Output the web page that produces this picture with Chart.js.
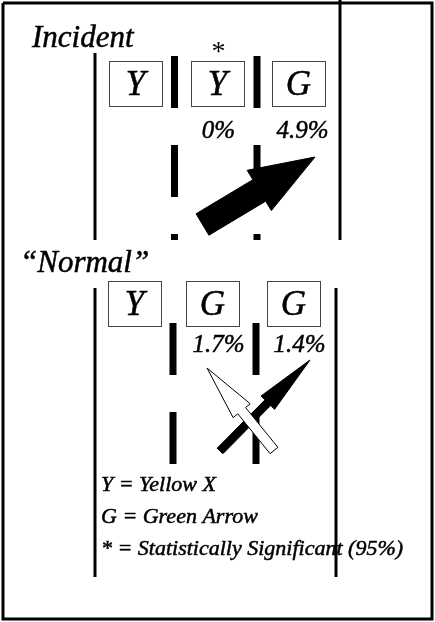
<!DOCTYPE html>
<html>
<head>
<meta charset="utf-8">
<script src="https://cdn.jsdelivr.net/npm/chart.js@4"></script>
<style>
  html, body { margin: 0; padding: 0; background: #fff; }
  canvas { display: block; }
</style>
</head>
<body>
<canvas id="signalChart" width="435" height="622"></canvas>
<script>
// Data
const panelTitles = ['Incident', '\u201CNormal\u201D'];
const incidentSignals = ['Y', 'Y', 'G'];
const incidentRates = ['', '0%', '4.9%'];
const incidentSignificant = [false, true, false];
const normalSignals = ['Y', 'G', 'G'];
const normalRates = ['', '1.7%', '1.4%'];
const normalSignificant = [false, false, false];
const legendKeys = ['Y', 'G', '*'];
const legendMeanings = ['Yellow X', 'Green Arrow', 'Statistically Significant (95%)'];

// Layout in diagram units (the hidden x / y scales run 0..435 and 0..622)
const SERIF = '"Liberation Serif", "DejaVu Serif", serif';
const panels = [
  {
    title: panelTitles[0], titleX: 32, titleY: 47,
    signals: incidentSignals, rates: incidentRates, significant: incidentSignificant,
    boxLeft: [109, 191, 272], boxTop: 61, rateY: 131, rateShift: [0, 1, 4],
    edges: [[95, 53, 240], [340, 0, 240]],
    dividers: [174.5, 257], divTop: 56, divBottom: 240,
    arrows: [
      { tail: [202.5, 224.5], tip: [315, 157], shaft: 25, head: 47, headLen: 65, fill: '#000' }
    ]
  },
  {
    title: panelTitles[1], titleX: 20, titleY: 272,
    signals: normalSignals, rates: normalRates, significant: normalSignificant,
    boxLeft: [108, 186, 267], boxTop: 281, rateY: 345, rateShift: [0, 6, 6],
    edges: [[95, 288, 577], [336, 288, 577]],
    dividers: [173, 256], divTop: 323, divBottom: 464,
    arrows: [
      { tail: [220, 451], tip: [310, 360], shaft: 8, head: 19, headLen: 60, fill: '#000' },
      { tail: [274, 450.5], tip: [207, 368], shaft: 10, head: 22, headLen: 55, fill: '#fff' }
    ]
  }
];
const BOX_W = 53;
const BOX_H = 45;
const legendX = 101;
const legendY = [491, 523, 555];

// Line datasets: frame, road edges, dashed lane dividers
const datasets = [];
datasets.push({
  data: [{x: 3, y: 3}, {x: 432, y: 3}, {x: 432, y: 619}, {x: 3, y: 619}, {x: 3, y: 3}],
  borderColor: '#000', borderWidth: 3
});
panels.forEach(p => {
  p.edges.forEach(e => {
    datasets.push({
      data: [{x: e[0], y: e[1]}, {x: e[0], y: e[2]}],
      borderColor: '#000', borderWidth: 3
    });
  });
  p.dividers.forEach(x => {
    datasets.push({
      data: [{x: x, y: p.divTop}, {x: x, y: p.divBottom}],
      borderColor: '#000', borderWidth: 7, borderDash: [52, 37], borderCapStyle: 'butt'
    });
  });
});
datasets.forEach(d => {
  d.showLine = true;
  d.pointRadius = 0;
  d.fill = false;
  d.tension = 0;
});

function drawArrow(ctx, xs, ys, a) {
  const tx = xs.getPixelForValue(a.tail[0]), ty = ys.getPixelForValue(a.tail[1]);
  const px = xs.getPixelForValue(a.tip[0]), py = ys.getPixelForValue(a.tip[1]);
  const len = Math.hypot(px - tx, py - ty);
  const ux = (px - tx) / len, uy = (py - ty) / len;
  const nx = -uy, ny = ux;
  const bx = px - ux * a.headLen, by = py - uy * a.headLen;
  const s = a.shaft / 2, h = a.head / 2;
  ctx.beginPath();
  ctx.moveTo(tx + nx * s, ty + ny * s);
  ctx.lineTo(bx + nx * s, by + ny * s);
  ctx.lineTo(bx + nx * h, by + ny * h);
  ctx.lineTo(px, py);
  ctx.lineTo(bx - nx * h, by - ny * h);
  ctx.lineTo(bx - nx * s, by - ny * s);
  ctx.lineTo(tx - nx * s, ty - ny * s);
  ctx.closePath();
  ctx.fillStyle = a.fill;
  ctx.fill();
  ctx.lineWidth = 1;
  ctx.strokeStyle = '#000';
  ctx.stroke();
}

// scanned text looks heavy, so add a thin outline
function heavyText(ctx, text, x, y) {
  ctx.fillText(text, x, y);
  ctx.lineWidth = 0.5;
  ctx.strokeStyle = '#000';
  ctx.strokeText(text, x, y);
}

const diagramPlugin = {
  id: 'diagram',
  beforeDatasetsDraw(chart) {
    const ctx = chart.ctx;
    const xs = chart.scales.x, ys = chart.scales.y;
    ctx.save();
    ctx.fillStyle = '#fff';
    ctx.fillRect(0, 0, chart.width, chart.height);
    // legend text sits under the road edge
    ctx.fillStyle = '#000';
    ctx.font = 'italic 22px ' + SERIF;
    ctx.textAlign = 'left';
    ctx.textBaseline = 'alphabetic';
    legendKeys.forEach((k, i) => {
      heavyText(ctx, k + ' = ' + legendMeanings[i], xs.getPixelForValue(legendX), ys.getPixelForValue(legendY[i]));
    });
    ctx.restore();
  },
  afterDatasetsDraw(chart) {
    const ctx = chart.ctx;
    const xs = chart.scales.x, ys = chart.scales.y;
    ctx.save();
    panels.forEach(p => {
      ctx.fillStyle = '#000';
      ctx.font = 'italic 31px ' + SERIF;
      ctx.textAlign = 'left';
      ctx.textBaseline = 'alphabetic';
      heavyText(ctx, p.title, xs.getPixelForValue(p.titleX), ys.getPixelForValue(p.titleY));

      p.signals.forEach((sig, i) => {
        const x0 = xs.getPixelForValue(p.boxLeft[i]);
        const x1 = xs.getPixelForValue(p.boxLeft[i] + BOX_W);
        const y0 = ys.getPixelForValue(p.boxTop);
        const y1 = ys.getPixelForValue(p.boxTop + BOX_H);
        const cx = (x0 + x1) / 2;
        ctx.fillStyle = '#fff';
        ctx.fillRect(x0, y0, x1 - x0, y1 - y0);
        ctx.strokeStyle = '#444';
        ctx.lineWidth = 1;
        ctx.strokeRect(x0 + 0.5, y0 + 0.5, x1 - x0, y1 - y0);
        ctx.fillStyle = '#000';
        ctx.font = 'italic 35px ' + SERIF;
        ctx.textAlign = 'center';
        ctx.textBaseline = 'alphabetic';
        heavyText(ctx, sig, cx, y0 + 34);
        if (p.rates[i]) {
          ctx.font = 'italic 25px ' + SERIF;
          ctx.textBaseline = 'middle';
          heavyText(ctx, p.rates[i], cx + p.rateShift[i], ys.getPixelForValue(p.rateY));
        }
        if (p.significant[i]) {
          ctx.font = '28px ' + SERIF;
          ctx.textBaseline = 'top';
          ctx.fillText('*', cx + 1, y0 - 22);
        }
      });

      p.arrows.forEach(a => drawArrow(ctx, xs, ys, a));
    });
    ctx.restore();
  }
};

new Chart(document.getElementById('signalChart'), {
  type: 'scatter',
  data: { datasets: datasets },
  options: {
    responsive: false,
    animation: false,
    layout: { padding: 0 },
    plugins: {
      legend: { display: false },
      tooltip: { enabled: false }
    },
    scales: {
      x: { type: 'linear', min: 0, max: 435, display: false },
      y: { type: 'linear', min: 0, max: 622, reverse: true, display: false }
    }
  },
  plugins: [diagramPlugin]
});
</script>
</body>
</html>
